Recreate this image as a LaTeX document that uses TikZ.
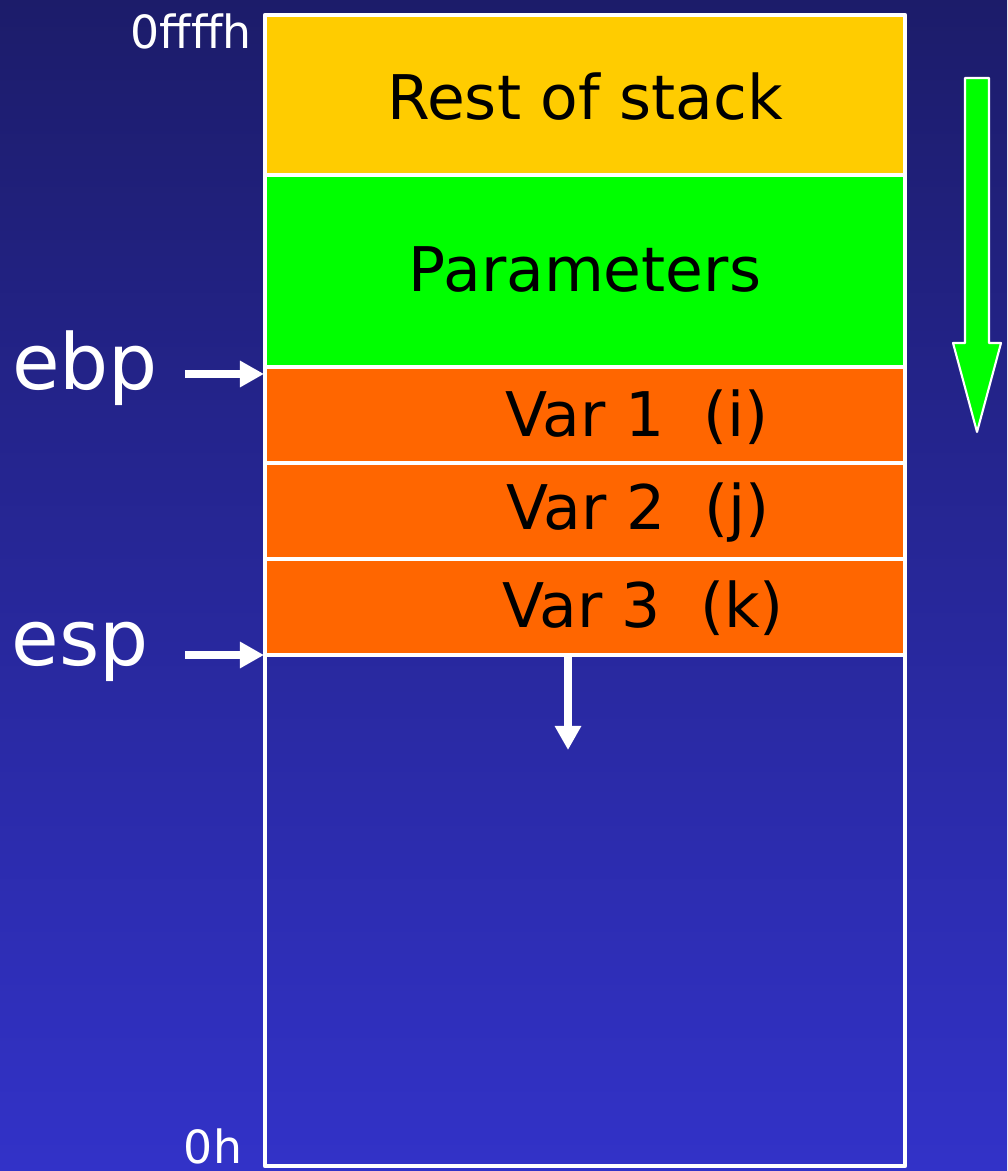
\documentclass[tikz,border=0pt]{standalone}
\usepackage{fontspec}
\setmainfont{DejaVu Sans}
\usetikzlibrary{arrows.meta}
\definecolor{bgtop}{HTML}{1C1C6A}
\definecolor{bgbot}{HTML}{3232C8}
\definecolor{resty}{HTML}{FFCC00}
\definecolor{paramg}{HTML}{00FF00}
\definecolor{varo}{HTML}{FF6600}
\tikzset{
	cell/.style={draw=white, line width=1.2pt},
	celltext/.style={font=\fontsize{17.5}{21}\selectfont, text=black},
	reg/.style={font=\fontsize{22}{26}\selectfont, text=white},
	addr/.style={font=\fontsize{13}{15}\selectfont, text=white},
	ptr/.style={draw=white, line width=2pt, -{Triangle[length=2.4mm, width=2.5mm]}}
}
\begin{document}
\begin{tikzpicture}[x=0.01cm, y=-0.01cm, line join=round]
		% background
		\useasboundingbox (0,0) rectangle (1007,1171);
		\shade[top color=bgtop, bottom color=bgbot] (0,0) rectangle (1007,1171);
		\coordinate (T) at (265,15);
		\coordinate (P) at (265,175);
		\coordinate (V1) at (265,367);
		\coordinate (V2) at (265,463);
		\coordinate (V3) at (265,559);
		\coordinate (E) at (265,655);
		\coordinate (B) at (905,1166);
		% stack cells
		\draw[cell, fill=resty] (T) rectangle (905,175);
		\draw[cell, fill=paramg] (P) rectangle (905,367);
		\draw[cell, fill=varo] (V1) rectangle (905,463);
		\draw[cell, fill=varo] (V2) rectangle (905,559);
		\draw[cell, fill=varo] (V3) rectangle (905,655);
		\draw[cell] (E) rectangle (B);
		\node[celltext] (rest) at (585,97) {Rest of stack};
		\node[celltext] (param) at (585,270) {Parameters};
		\node[celltext] (var1) at (637,417) {Var 1\ \ (i)};
		\node[celltext] (var2) at (638,513) {Var 2\ \ (j)};
		\node[celltext] (var3) at (643,608) {Var 3\ \ (k)};
		% addresses
		\node[addr] (hi) at (191,31) {0ffffh};
		\node[addr] (lo) at (213,1146) {0h};
		% registers
		\node[reg] (ebp) at (85,368) {ebp};
		\node[reg] (esp) at (80,652) {esp};
		\coordinate (ebpa) at (185,374);
		\coordinate (ebpb) at (264,374);
		\coordinate (espa) at (185,655);
		\coordinate (espb) at (264,655);
		\draw[ptr] (ebpa) -- (ebpb);
		\draw[ptr] (espa) -- (espb);
		\coordinate (grow) at (568,657);
		\coordinate (growend) at (568,750);
		\draw[ptr] (grow) -- (growend);
		% direction of growth
		\draw[draw=white, line width=0.6pt, fill=paramg]
		(965,78) -- (989,78) -- (989,343) -- (1001,343) -- (977,432) -- (953,343) -- (965,343) -- cycle;
	\end{tikzpicture}
\end{document}
